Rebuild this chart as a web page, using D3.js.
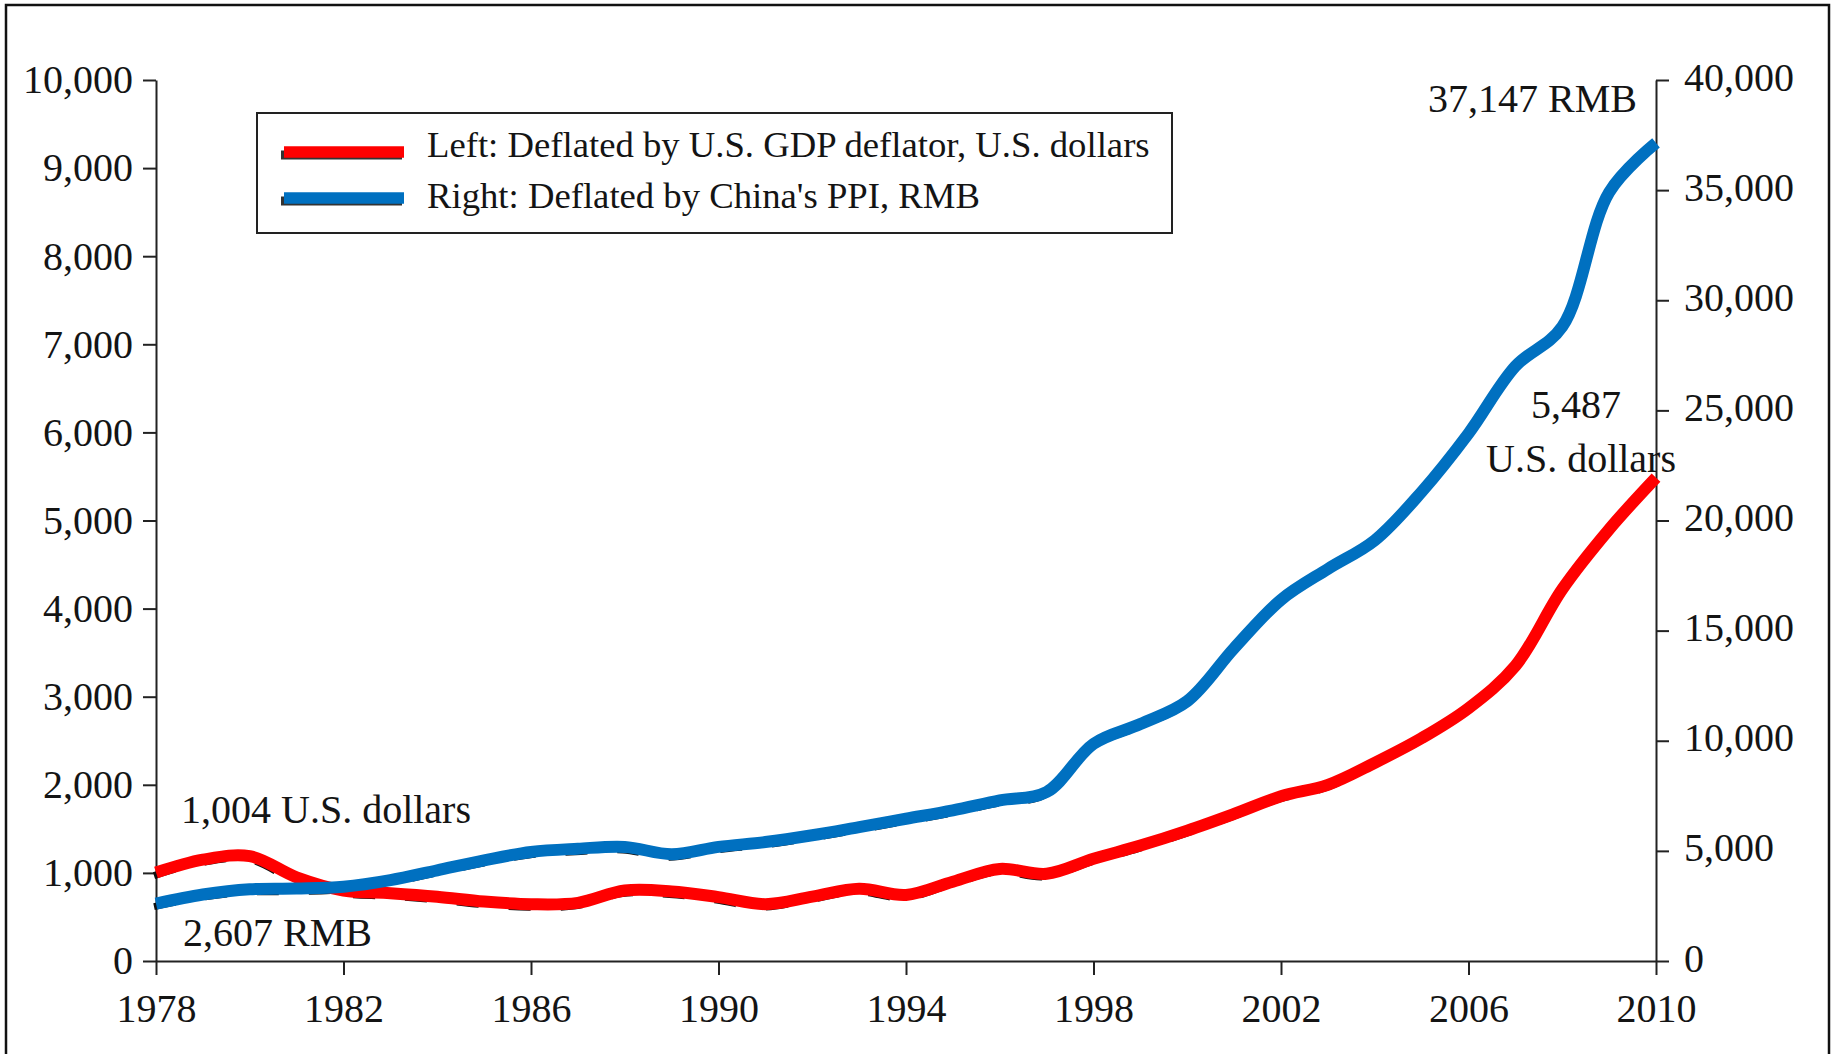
<!DOCTYPE html>
<html>
<head>
<meta charset="utf-8">
<script src="https://cdn.jsdelivr.net/npm/d3@7"></script>
<style>
  body { margin: 0; background: #fff; }
  svg text { font-family: "Liberation Serif", "Times New Roman", serif; fill: #141414; }
  .axis path, .axis line { stroke: #222; stroke-width: 2; fill: none; }
  .axis text { font-size: 40px; }
</style>
</head>
<body>
<div id="chart"></div>
<script>
// years on the x axis
var years = [1978, 1979, 1980, 1981, 1982, 1983, 1984, 1985, 1986, 1987, 1988,
             1989, 1990, 1991, 1992, 1993, 1994, 1995, 1996, 1997, 1998, 1999,
             2000, 2001, 2002, 2003, 2004, 2005, 2006, 2007, 2008, 2009, 2010];

// left axis: deflated by U.S. GDP deflator, U.S. dollars
var usd = [1004, 1150, 1190, 950, 800, 770, 730, 675, 645, 660, 800,
           790, 725, 645, 730, 820, 750, 900, 1045, 990, 1160, 1310,
           1480, 1670, 1870, 2000, 2250, 2530, 2870, 3350, 4220, 4900, 5487];

// right axis: deflated by China's PPI, RMB
var rmb = [2607, 3020, 3260, 3290, 3370, 3670, 4120, 4570, 4950, 5100, 5180,
           4850, 5180, 5400, 5710, 6080, 6460, 6840, 7290, 7670, 9860, 10760,
           11800, 14200, 16400, 17800, 19100, 21300, 23950, 27000, 28800, 34900, 37147];

var xTicks = [1978, 1982, 1986, 1990, 1994, 1998, 2002, 2006, 2010];
var leftTicks = [0, 1000, 2000, 3000, 4000, 5000, 6000, 7000, 8000, 9000, 10000];
var rightTicks = [0, 5000, 10000, 15000, 20000, 25000, 30000, 35000, 40000];

var legendLabels = ["Left: Deflated by U.S. GDP deflator, U.S. dollars",
                    "Right: Deflated by China's PPI, RMB"];

var width = 1834;
var height = 1054;
var plot = {left: 156, right: 1656, top: 80, bottom: 961};
var red = "#ff0000";
var blue = "#0070c0";

var svg = d3.select("#chart")
    .append("svg")
    .attr("width", width)
    .attr("height", height);

// frame round the figure (bottom edge falls off the page)
svg.append("rect")
    .attr("x", 6)
    .attr("y", 5)
    .attr("width", 1823)
    .attr("height", 1070)
    .attr("fill", "none")
    .attr("stroke", "#111")
    .attr("stroke-width", 2.5);

var x = d3.scaleLinear().domain([1978, 2010]).range([plot.left, plot.right]);
var yLeft = d3.scaleLinear().domain([0, 10000]).range([plot.bottom, plot.top]);
var yRight = d3.scaleLinear().domain([0, 40000]).range([plot.bottom, plot.top]);

var fmt = d3.format(",");

svg.append("g")
    .attr("class", "axis")
    .attr("transform", "translate(" + plot.left + ",0)")
    .call(d3.axisLeft(yLeft).tickValues(leftTicks).tickFormat(fmt)
        .tickSize(13).tickSizeOuter(0).tickPadding(10));

var rightAxis = svg.append("g")
    .attr("class", "axis")
    .attr("transform", "translate(" + plot.right + ",0)")
    .call(d3.axisRight(yRight).tickValues(rightTicks).tickFormat(fmt)
        .tickSize(13).tickSizeOuter(0).tickPadding(15));
rightAxis.selectAll("text").attr("dy", "0.25em");

svg.append("g")
    .attr("class", "axis")
    .attr("transform", "translate(0," + plot.bottom + ")")
    .call(d3.axisBottom(x).tickValues(xTicks).tickFormat(d3.format("d"))
        .tickSize(14).tickSizeOuter(0).tickPadding(19));

svg.selectAll(".axis text").attr("fill", "#141414");

// series
var usdLine = d3.line()
    .x(function (d, i) { return x(years[i]); })
    .y(function (d) { return yLeft(d); })
    .curve(d3.curveCatmullRom.alpha(0.5));

var rmbLine = d3.line()
    .x(function (d, i) { return x(years[i]); })
    .y(function (d) { return yRight(d); })
    .curve(d3.curveCatmullRom.alpha(0.5));

// faint black dashed originals peeking out beneath the coloured lines
[usdLine(usd), rmbLine(rmb)].forEach(function (p) {
    svg.append("path")
        .attr("d", p)
        .attr("transform", "translate(-2,3)")
        .attr("fill", "none")
        .attr("stroke", "#111")
        .attr("stroke-width", 7)
        .attr("stroke-dasharray", "22 30");
});

svg.append("path")
    .attr("d", usdLine(usd))
    .attr("fill", "none")
    .attr("stroke", red)
    .attr("stroke-width", 12)
    .attr("stroke-linejoin", "round");

svg.append("path")
    .attr("d", rmbLine(rmb))
    .attr("fill", "none")
    .attr("stroke", blue)
    .attr("stroke-width", 12)
    .attr("stroke-linejoin", "round");

// legend
var legend = svg.append("g");
legend.append("rect")
    .attr("x", 257)
    .attr("y", 113)
    .attr("width", 915)
    .attr("height", 120)
    .attr("fill", "#fff")
    .attr("stroke", "#222")
    .attr("stroke-width", 2);

[red, blue].forEach(function (c, i) {
    var ly = 152 + i * 46;
    legend.append("line")
        .attr("x1", 281).attr("x2", 402)
        .attr("y1", ly + 3).attr("y2", ly + 3)
        .attr("stroke", "#333")
        .attr("stroke-width", 9);
    legend.append("line")
        .attr("x1", 284).attr("x2", 404)
        .attr("y1", ly).attr("y2", ly)
        .attr("stroke", c)
        .attr("stroke-width", 11.5);
    legend.append("text")
        .attr("x", 427)
        .attr("y", ly + 5 + i * 5)
        .attr("font-size", 36.7)
        .text(legendLabels[i]);
});

// annotations at the first and last values
var last = years.length - 1;
function note(txt, px, py, dx, dy, anchor) {
    svg.append("text")
        .attr("x", px + dx)
        .attr("y", py + dy)
        .attr("font-size", 40)
        .attr("text-anchor", anchor)
        .text(txt);
}
note(fmt(rmb[last]) + " RMB", x(years[last]), yRight(rmb[last]), -19, -31, "end");
note(fmt(usd[last]), x(years[last]), yLeft(usd[last]), -35, -60, "end");
note("U.S. dollars", x(years[last]), yLeft(usd[last]), 20, -6, "end");
note(fmt(usd[0]) + " U.S. dollars", x(years[0]), yLeft(usd[0]), 25, -50, "start");
note(fmt(rmb[0]) + " RMB", x(years[0]), yRight(rmb[0]), 27, 42, "start");
</script>
</body>
</html>
